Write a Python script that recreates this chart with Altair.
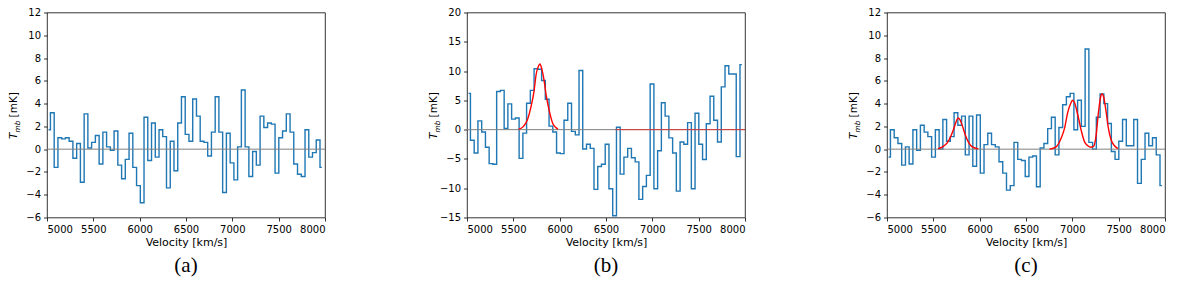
import altair as alt
import pandas as pd

# channel centre velocities [km/s] (shared by the three spectra)
velocity = [5017, 5057, 5098, 5138, 5179, 5219, 5259, 5300, 5340, 5381,
            5421, 5461, 5502, 5542, 5583, 5623, 5663, 5704, 5744, 5785,
            5825, 5865, 5906, 5946, 5987, 6027, 6067, 6108, 6148, 6189,
            6229, 6269, 6310, 6350, 6391, 6431, 6471, 6512, 6552, 6593,
            6633, 6673, 6714, 6754, 6795, 6835, 6875, 6916, 6956, 6997,
            7037, 7077, 7118, 7158, 7199, 7239, 7279, 7320, 7360, 7401,
            7441, 7481, 7522, 7562, 7603, 7643, 7683, 7724, 7764, 7805,
            7845, 7885, 7926, 7966]

# T_mb [mK], panel (a)
tmb_a = [1.7, 3.2, -1.6, 1.0, 0.9, 1.0, 0.7, -0.8, 0.5, -2.9,
         3.1, 0.1, 0.6, 1.2, -1.3, 1.5, 0.2, -0.1, 1.6, -1.4,
         -2.6, -0.9, 1.4, -1.6, -3.2, -4.7, 2.8, -1.0, 2.3, -0.7,
         1.7, 1.1, -3.4, 0.7, -1.9, 2.3, 4.6, 1.3, 0.7, 4.4,
         2.9, 0.7, 0.6, -0.6, 1.5, 4.6, 1.5, -3.8, 1.4, -1.2,
         -2.7, 0.2, 5.2, 0.2, -2.4, -0.2, -1.4, 2.9, 1.9, 2.3,
         2.2, -2.1, 1.0, 1.6, 3.1, 1.5, -1.3, -2.2, -2.4, 1.7,
         -0.7, -0.3, 0.8, -1.6]

# T_mb [mK], panel (b)
tmb_b = [6.2, -1.8, -4.0, 1.5, -0.4, -3.0, -5.8, -5.9, 6.5, 6.7,
         0.2, 4.4, 1.8, 2.0, -4.9, -0.6, 4.5, 6.7, 10.4, 10.3,
         8.4, 5.2, 0.6, -0.4, -4.0, -4.1, 1.6, 4.5, -0.3, -0.9,
         10.1, -3.3, -2.5, -3.2, -10.2, -6.3, -5.9, -2.5, -10.1, -14.7,
         0.4, -7.6, -4.7, -3.2, -4.8, -5.5, -11.9, -9.7, -7.8, 7.8,
         -10.1, -3.6, 4.6, 2.3, -1.4, -4.0, -10.5, -2.1, -2.5, 1.2,
         -10.1, 2.8, -2.5, -5.1, 1.0, 5.7, 1.6, -2.1, 7.3, 10.9,
         9.5, 9.5, -4.6, 11.1]

# T_mb [mK], panel (c)
tmb_c = [-0.7, 1.7, 1.0, 0.5, -1.4, 0.2, -1.3, 1.7, -0.1, 2.1,
         1.5, 1.1, -0.7, 1.7, 0.0, 2.6, 0.7, 1.1, 3.2, 2.1,
         2.9, -0.5, 2.9, -1.5, 3.0, -2.1, 0.4, 1.4, 0.4, 0.2,
         -1.1, -2.1, -3.6, -3.2, 0.6, -0.9, -1.0, -2.4, -0.7, -0.6,
         -3.3, 0.1, 0.5, 1.8, 2.8, -0.5, 1.9, 3.9, 4.6, 4.9,
         1.7, 4.3, 2.0, 8.8, 0.6, 0.0, 2.8, 4.85, 4.0, 2.25,
         -0.2, -0.9, 0.7, 2.6, 0.3, 0.3, 2.6, -3.0, -0.9, 1.4,
         0.3, 1.0, -0.5, -3.2]

# fitted profiles (red)
fit_b_v = [5557, 5604, 5650, 5686, 5722, 5747, 5773, 5787, 5808, 5830,
           5855, 5891, 5927, 5963, 5981]
fit_b_t = [0.08, 0.47, 1.6, 3.6, 6.4, 9.5, 10.9, 11.2, 10.3, 8.6,
           5.8, 3.0, 1.0, 0.3, 0.08]
fit_b0_v = [6600, 8000]
fit_b0_t = [0.0, 0.0]

fit_c1_v = [5550, 5600, 5650, 5690, 5725, 5750, 5768, 5790, 5815, 5845,
            5880, 5920, 5985]
fit_c1_t = [0.05, 0.2, 0.55, 1.15, 1.9, 2.5, 2.74, 2.55, 2.0, 1.25,
            0.6, 0.2, 0.03]

fit_c2_v = [6753, 6825, 6879, 6915, 6951, 6987, 7002, 7023, 7059, 7095,
            7131, 7167, 7203, 7232, 7257, 7282, 7311, 7321, 7339, 7365,
            7390, 7419, 7455, 7491]
fit_c2_t = [0.0, 0.2, 0.95, 1.8, 3.25, 4.1, 4.3, 4.1, 3.0, 1.67,
            0.66, 0.3, 0.17, 0.28, 1.24, 3.25, 4.76, 4.85, 4.56, 3.25,
            1.8, 0.8, 0.3, 0.05]

x_ticks = [5000, 5500, 6000, 6500, 7000, 7500, 8000]
y_ticks_ac = [-6, -4, -2, 0, 2, 4, 6, 8, 10, 12]
y_ticks_b = [-15, -10, -5, 0, 5, 10, 15, 20]
labels = ["(a)", "(b)", "(c)"]

W, H = 278, 205
BLUE = "#1f77b4"
RED = "#ff0000"


def panel(tmb, ydom, yticks, label, fits):
    xs = alt.X("v:Q", scale=alt.Scale(domain=[5000, 8000], nice=False, zero=False),
               axis=alt.Axis(values=x_ticks, format="d", title="Velocity [km/s]",
                             labelOverlap=False))
    ys = alt.Y("t:Q", scale=alt.Scale(domain=ydom, nice=False, zero=False),
               axis=alt.Axis(values=yticks, format="d", title=None,
                             labelOverlap=False))

    spec = alt.Chart(pd.DataFrame({"v": velocity, "t": tmb})).mark_line(
        interpolate="step", color=BLUE, strokeWidth=1.4).encode(
        x=xs, y=ys, order="v:Q")

    zero = alt.Chart(pd.DataFrame({"t": [0.0]})).mark_rule(
        color="#808080", strokeWidth=1).encode(y=ys)

    layers = [spec, zero]
    for fv, ft, interp, op, sw in fits:
        layers.append(alt.Chart(pd.DataFrame({"v": fv, "t": ft})).mark_line(
            interpolate=interp, color=RED, strokeWidth=sw, opacity=op).encode(
            x=xs, y=ys, order="v:Q"))

    txt = pd.DataFrame({"s": [label]})
    lab = alt.Chart(txt).mark_text(font="Liberation Serif", fontSize=21,
                                   align="center", baseline="alphabetic",
                                   color="black").encode(
        text="s:N", x=alt.value(W / 2), y=alt.value(259.5))

    t1 = alt.Chart(pd.DataFrame({"s": ["T"]})).mark_text(
        font="DejaVu Sans", fontStyle="italic", fontSize=10.5, angle=270,
        align="left", baseline="alphabetic", color="black").encode(
        text="s:N", x=alt.value(-29.7), y=alt.value(126.4))
    t2 = alt.Chart(pd.DataFrame({"s": ["mb"]})).mark_text(
        font="DejaVu Sans", fontStyle="italic", fontSize=7.35, angle=270,
        align="left", baseline="alphabetic", color="black").encode(
        text="s:N", x=alt.value(-27.2), y=alt.value(120.0))
    t3 = alt.Chart(pd.DataFrame({"s": ["[mK]"]})).mark_text(
        font="DejaVu Sans", fontSize=10.5, angle=270,
        align="left", baseline="alphabetic", color="black").encode(
        text="s:N", x=alt.value(-29.7), y=alt.value(104.9))

    layers += [lab, t1, t2, t3]
    return alt.layer(*layers).properties(width=W, height=H)


pa = panel(tmb_a, [-6, 12], y_ticks_ac, labels[0], [])
pb = panel(tmb_b, [-15, 20], y_ticks_b, labels[1],
           [(fit_b0_v, fit_b0_t, "linear", 0.6, 1.0),
            (fit_b_v, fit_b_t, "monotone", 1.0, 1.4)])
pc = panel(tmb_c, [-6, 12], y_ticks_ac, labels[2],
           [(fit_c1_v, fit_c1_t, "monotone", 1.0, 1.4),
            (fit_c2_v, fit_c2_t, "monotone", 1.0, 1.4)])

chart = alt.hconcat(pa, pb, pc, spacing=142, bounds="flush").properties(
    padding={"left": 0, "top": -1.5, "right": 0, "bottom": 0},
    background="white",
).configure_view(
    stroke="black", strokeWidth=0.8
).configure_axis(
    domain=False, grid=False, labelOverlap=False,
    tickColor="black", tickWidth=0.8, tickSize=3.5,
    labelFont="DejaVu Sans", labelFontSize=10, labelColor="black", labelPadding=3,
    titleFont="DejaVu Sans", titleFontSize=11, titleColor="black",
    titleFontWeight="normal", titlePadding=2,
)

chart.save("out.html", embed_options={"renderer": "svg", "actions": False})
